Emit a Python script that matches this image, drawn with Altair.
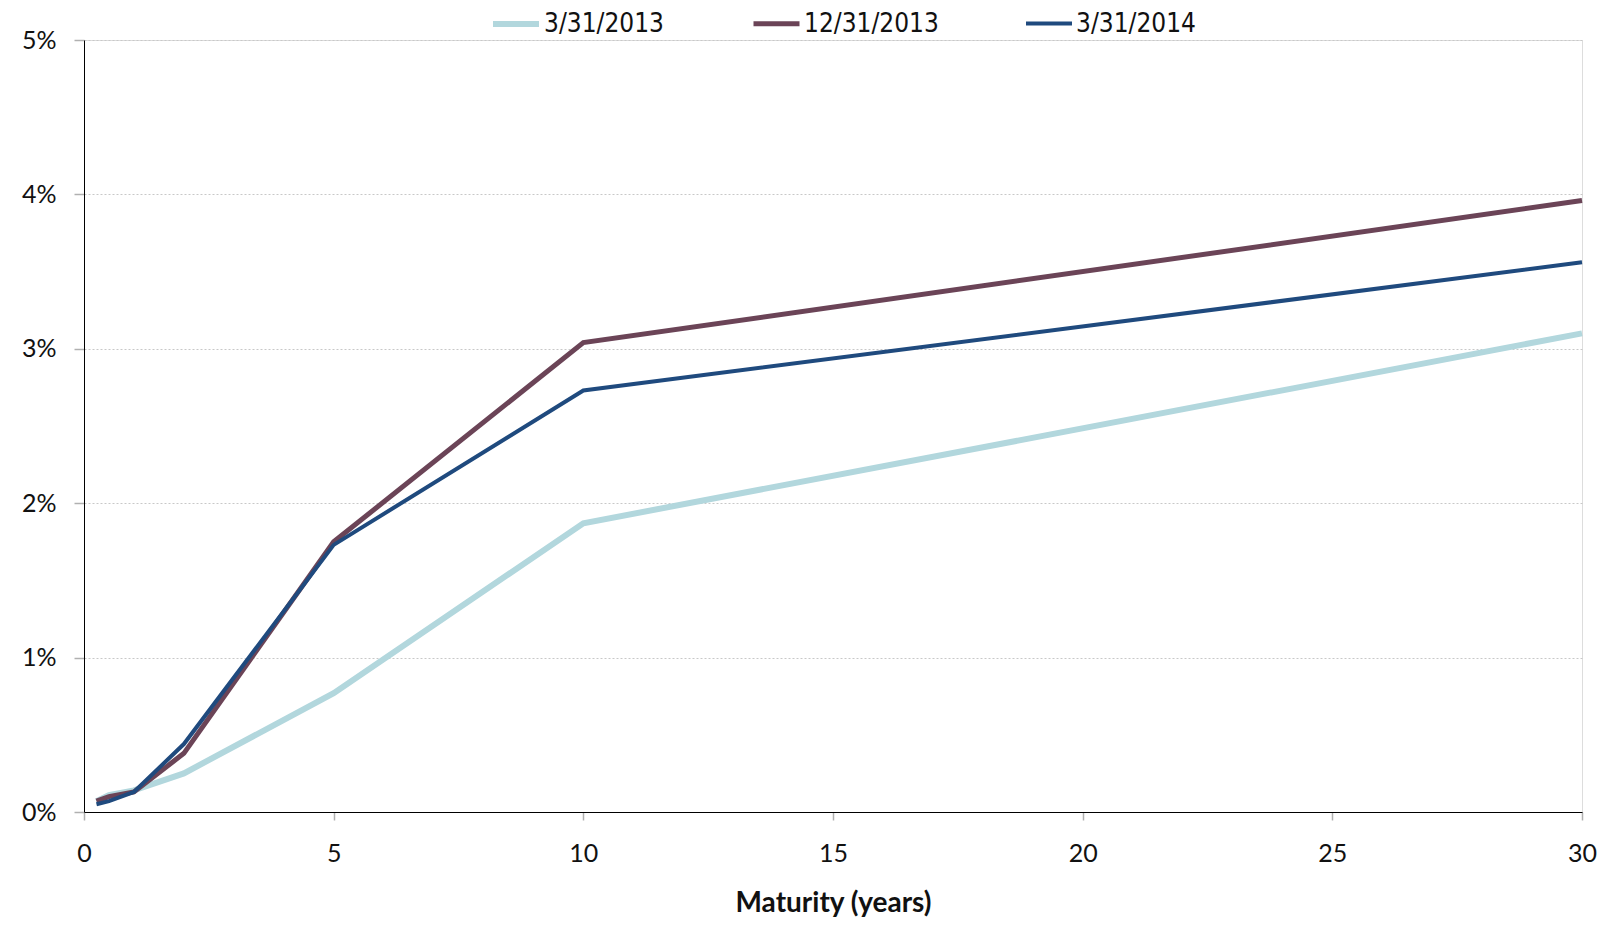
import altair as alt
import pandas as pd

maturities = [0.25, 0.5, 1, 2, 5, 10, 30]
series_names = ["3/31/2013", "12/31/2013", "3/31/2014"]
yields_2013q1 = [0.07, 0.11, 0.14, 0.25, 0.77, 1.87, 3.10]
yields_2013q4 = [0.07, 0.10, 0.13, 0.38, 1.75, 3.04, 3.96]
yields_2014q1 = [0.05, 0.07, 0.13, 0.44, 1.73, 2.73, 3.56]
colors = ["#b2d7dd", "#6b4457", "#1f4a7e"]
widths = [6, 4, 4]

rows = []
for i, (name, ys) in enumerate(zip(series_names, [yields_2013q1, yields_2013q4, yields_2014q1])):
    for m, y in zip(maturities, ys):
        rows.append({"series": name, "order": i, "maturity": m, "yield": y})
df = pd.DataFrame(rows)

LABEL_FONT = "Lato, Open Sans, sans-serif"
LEGEND_FONT = "Liberation Sans Narrow, DejaVu Sans Condensed, Roboto, sans-serif"

legend_kw = dict(title=None, orient="none", direction="horizontal",
                 legendX=406, legendY=-42, padding=0,
                 symbolType="stroke", symbolSize=2116,
                 labelFont=LEGEND_FONT, labelFontSize=26,
                 labelColor="#111111", labelOffset=2,
                 columnPadding=79)

chart = alt.Chart(df).mark_line(strokeCap="butt", strokeJoin="miter").encode(
    x=alt.X("maturity:Q",
            scale=alt.Scale(domain=[0, 30], nice=False, zero=True),
            axis=alt.Axis(title="Maturity (years)", values=[0, 5, 10, 15, 20, 25, 30],
                          grid=False, domainColor="#000000", domainWidth=1,
                          tickColor="#b0b0b0", tickSize=8, tickWidth=1.5,
                          labelFlush=False,
                          labelFont=LABEL_FONT, labelFontSize=25, labelColor="#111111",
                          labelPadding=21, titleFont=LABEL_FONT, titleFontSize=28,
                          titleFontWeight="bold", titleColor="#111111", titlePadding=23)),
    y=alt.Y("yield:Q",
            scale=alt.Scale(domain=[0, 5], nice=False),
            axis=alt.Axis(title=None, values=[0, 1, 2, 3, 4, 5],
                          labelExpr="datum.value + '%'",
                          grid=True, gridColor="#c8c8c8", gridDash=[2, 2], gridWidth=1,
                          domainColor="#000000", domainWidth=1,
                          tickColor="#b0b0b0", tickSize=10, tickWidth=1.5,
                          labelFlush=False,
                          labelFont=LABEL_FONT, labelFontSize=25, labelColor="#111111",
                          labelPadding=18)),
    color=alt.Color("series:N",
                    scale=alt.Scale(domain=series_names, range=colors),
                    legend=alt.Legend(**legend_kw)),
    strokeWidth=alt.StrokeWidth("series:N",
                                scale=alt.Scale(domain=series_names, range=widths),
                                legend=alt.Legend(**legend_kw)),
    order=alt.Order("maturity:Q"),
    detail="series:N",
).properties(
    width=1498,
    height=772,
    autosize=alt.AutoSizeParams(type="none"),
    padding={"left": 76, "top": 32, "right": 20, "bottom": 106},
).configure_view(stroke=None).configure(background="#ffffff")

chart.save("out.html", embed_options={"renderer": "svg", "actions": False})
